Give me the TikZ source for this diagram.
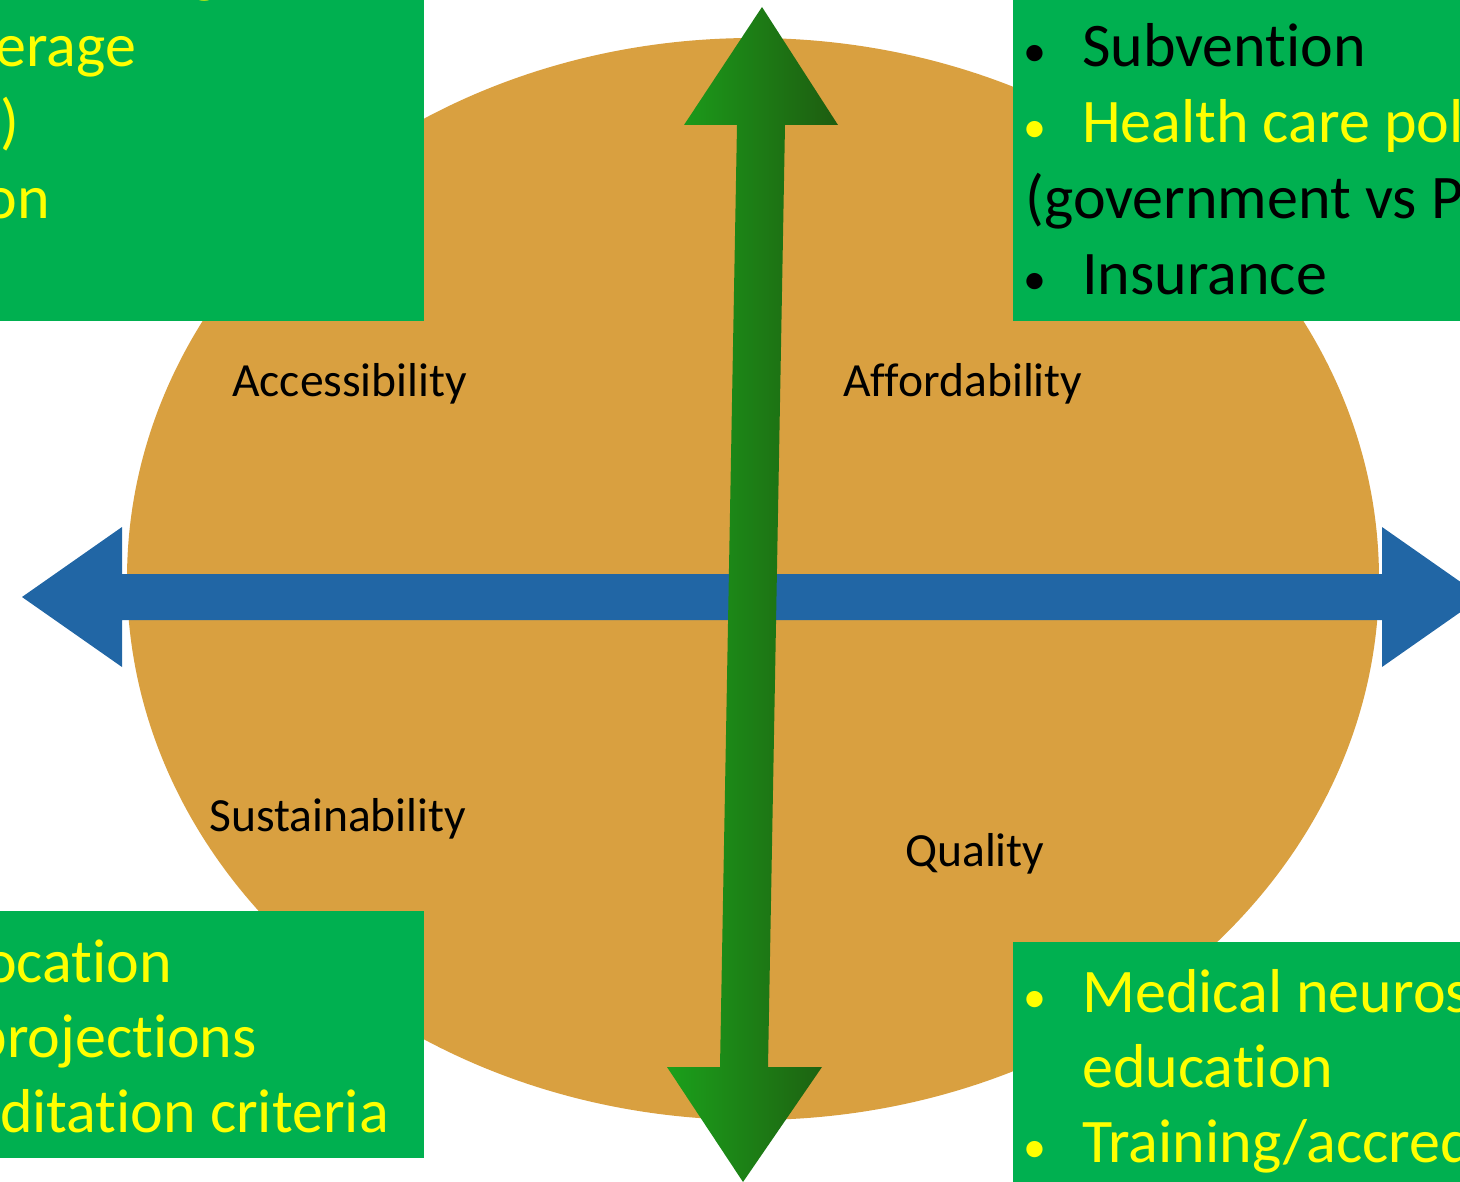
\documentclass[tikz,border=0pt]{standalone}
\usepackage{fontspec}
\setmainfont{Carlito}[Ligatures={NoCommon,NoRare,NoContextual}]
\usepackage{xcolor}
\usetikzlibrary{positioning,calc}

\definecolor{ovalorange}{HTML}{D9A040}
\definecolor{boxgreen}{HTML}{00B050}
\definecolor{axisblue}{HTML}{2166A5}
\definecolor{lightgreen}{HTML}{1BA01B}
\definecolor{darkgreen}{HTML}{1E5C10}
\definecolor{boxyellow}{HTML}{FFFF00}

\begin{document}
\begin{tikzpicture}[x=1pt, y=-1pt,
    infobox/.style={fill=boxgreen},
    bigtext/.style={inner sep=0pt, font=\fontsize{62}{76}\selectfont},
    ylw/.style={bigtext, text=boxyellow},
    blk/.style={bigtext, text=black},
    bullet/.style={inner sep=0pt, anchor=base, font=\fontsize{46}{56}\selectfont},
    axislabel/.style={inner sep=0pt, font=\fontsize{47.6}{56}\selectfont, text=black}]

    \useasboundingbox (0,0) rectangle (1460,1182);
    \clip (0,0) rectangle (1460,1182);

    \fill[ovalorange] (753,579) ellipse [x radius=626, y radius=541];

    \fill[infobox] (-10,-10) rectangle (424,321);
    \fill[infobox] (1013,-10) rectangle (1470,321);
    \fill[infobox] (-10,911) rectangle (424,1158);
    \fill[infobox] (1013,942) rectangle (1470,1192);

    % horizontal axis
    \fill[axisblue] (22,597) -- (122,527) -- (122,574) -- (1382,574) -- (1382,527)
        -- (1482,597) -- (1382,667) -- (1382,620) -- (122,620) -- (122,667) -- cycle;

    % vertical axis
    \shade[left color=lightgreen, right color=darkgreen]
        (762,7) -- (838,125) -- (785,125) -- (768,1067) -- (822,1067) -- (743,1182)
        -- (667,1067) -- (720,1067) -- (737,125) -- (684,125) -- cycle;

    \node[axislabel, anchor=base west] (acc) at (232,396) {Accessibility};
    \node[axislabel, anchor=base west] (aff) at (843,396) {Affordability};
    \node[axislabel, anchor=base west] (sus) at (209,831) {Sustainability};
    \node[axislabel, anchor=base west] (qual) at (905,866) {Quality};

    \node[ylw, anchor=base west] (tl0) at (190,-9) {g};
    \node[ylw, anchor=base east] (tl1) at (136,67) {erage};
    \node[ylw, anchor=base east] (tl2) at (19,143) {)};
    \node[ylw, anchor=base east] (tl3) at (50,219) {on};

    \node[blk, anchor=base west] (tr0) at (1025,-9) {(};
    \node[blk, anchor=base west] (tr0b) at (1398,-9) {)};
    \node[bullet, text=black] (dot1) at (1035,67) {•};
    \node[blk, anchor=base west] (tr1) at (1082,67) {Subvention};
    \node[bullet, text=boxyellow] (dot2) at (1035,143) {•};
    \node[ylw, anchor=base west] (tr2) at (1082,143) {Health care pol};
    \node[blk, anchor=base west] (tr3) at (1025,219) {(government vs P};
    \node[bullet, text=black] (dot3) at (1035,295) {•};
    \node[blk, anchor=base west] (tr4) at (1082,295) {Insurance};

    \node[ylw, anchor=base east] (bl1) at (172,982) {ocation};
    \node[ylw, anchor=base east] (bl2) at (257,1057) {projections};
    \node[ylw, anchor=base east] (bl3) at (389,1132) {ditation criteria};

    \node[bullet, text=boxyellow] (dot4) at (1035,1012) {•};
    \node[ylw, anchor=base west] (br1) at (1082,1012) {Medical neuros};
    \node[ylw, anchor=base west] (br2) at (1082,1087) {education};
    \node[bullet, text=boxyellow] (dot5) at (1035,1162) {•};
    \node[ylw, anchor=base west] (br3) at (1082,1162) {Training/accred};
\end{tikzpicture}
\end{document}
